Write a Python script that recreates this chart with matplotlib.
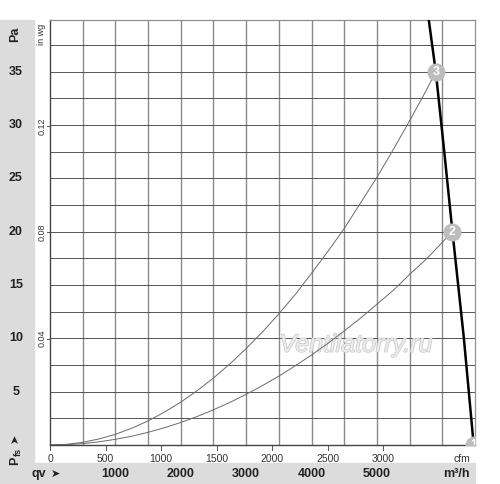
import matplotlib
matplotlib.use("Agg")
import matplotlib.pyplot as plt
from matplotlib.patches import Rectangle
from matplotlib.transforms import blended_transform_factory
import matplotlib.patheffects as pe

plt.rcParams['font.family'] = ['Liberation Sans', 'DejaVu Sans']

# system curves (qv in m3/h, pressure in Pa)
qv_curve3 = [0, 250, 500, 750, 1000, 1250, 1500, 1750, 2000, 2250, 2500, 2750, 3000,
             3250, 3500, 3750, 4000, 4250, 4500, 4750, 5000, 5250, 5500, 5750, 5900]
pa_curve3 = [0, 0.06, 0.25, 0.57, 1.0, 1.57, 2.26, 3.08, 4.02, 5.09, 6.28, 7.60, 9.04,
             10.6, 12.3, 14.1, 16.1, 18.15, 20.3, 22.7, 25.1, 27.7, 30.4, 33.2, 35.0]
qv_curve2 = [0, 250, 500, 750, 1000, 1250, 1500, 1750, 2000, 2250, 2500, 2750, 3000,
             3250, 3500, 3750, 4000, 4250, 4500, 4750, 5000, 5250, 5500, 5750, 6000, 6150]
pa_curve2 = [0, 0.03, 0.13, 0.30, 0.53, 0.82, 1.19, 1.62, 2.11, 2.67, 3.30, 3.99, 4.75,
             5.57, 6.46, 7.42, 8.44, 9.53, 10.7, 11.9, 13.2, 14.5, 16.0, 17.4, 19.0, 20.0]

# fan curve
qv_fan = [5790, 5900, 6030, 6155, 6330, 6480]
pa_fan = [40.0, 35.0, 27.5, 20.0, 10.0, 0.0]

# operating points
pt_labels = ['1', '2', '3']
pt_qv = [6480, 6155, 5900]
pt_pa = [0.0, 20.0, 35.0]

pa_ticks = [5, 10, 15, 20, 25, 30, 35]
inwg_ticks = [0.04, 0.08, 0.12]
m3h_ticks = [1000, 2000, 3000, 4000, 5000]
cfm_ticks = [0, 500, 1000, 1500, 2000, 2500, 3000]

CFM = 1.699  # m3/h per cfm
PA_PER_INWG = 249.09

fig = plt.figure(figsize=(5, 4.84), dpi=100)
ax = fig.add_axes([50 / 500, 39 / 484, 425 / 500, 425 / 484])

# gray bands
fig.patches.append(Rectangle((0, 0), 34 / 500, 464 / 484, transform=fig.transFigure,
                             color='#dcdcdc', zorder=0))
fig.patches.append(Rectangle((0, 0), 475 / 500, 21 / 484, transform=fig.transFigure,
                             color='#dcdcdc', zorder=0))

ax.set_xlim(0, 6500)
ax.set_ylim(0, 39.85)
for v in range(500, 6500, 500):
    ax.axvline(v, color='#8a8a8a', lw=1.0, zorder=1)
for i in range(1, 16):
    ax.axhline(i * 2.5, color='#555555', lw=0.7, zorder=1)

for s in ['top', 'right']:
    ax.spines[s].set_color('#909090')
    ax.spines[s].set_linewidth(0.9)
for s in ['left', 'bottom']:
    ax.spines[s].set_color('#444444')
    ax.spines[s].set_linewidth(1.0)
ax.set_xticks([])
ax.set_yticks([])

# watermark
ax.text(4680, 9.4, 'Ventilatorry.ru', fontsize=18, style='italic', color='#ebebeb',
        ha='center', va='center', zorder=1.5,
        path_effects=[pe.withStroke(linewidth=1.0, foreground='#c8c8c8')])

ax.plot(qv_curve3, pa_curve3, color='#6a6a6a', lw=0.7, zorder=2)
ax.plot(qv_curve2, pa_curve2, color='#6a6a6a', lw=0.7, zorder=2)
ax.plot(qv_fan, pa_fan, color='black', lw=1.8, zorder=3)

for lab, q, p in zip(pt_labels, pt_qv, pt_pa):
    ax.plot(q, p, 'o', ms=13, color='#bdbdbd', mec='none', zorder=4, clip_on=True)
    ax.text(q, p, lab, color='white', fontsize=9, fontweight='bold',
            ha='center', va='center', zorder=5, clip_on=True)

# left Pa labels
tl = blended_transform_factory(fig.transFigure, ax.transData)
for p in pa_ticks:
    fig.text(16 / 500, p, str(p), transform=tl, fontsize=9, fontweight='bold',
             ha='center', va='center', color='#222222')
fig.text(15 / 500, 1 - 34 / 484, 'Pa', rotation=90, fontsize=9, fontweight='bold',
         ha='center', va='center', color='#222222')
fig.text(15 / 500, 1 - 461 / 484, 'P', rotation=90, fontsize=9, fontweight='bold',
         ha='center', va='center', color='#222222')
fig.text(18 / 500, 1 - 452 / 484, 'fs', rotation=90, fontsize=6.5, fontweight='bold',
         ha='center', va='center', color='#222222')
fig.text(15 / 500, 1 - 438 / 484, '\u27a4', rotation=90, fontsize=8,
         ha='center', va='center', color='#222222')

# in wg labels
for w in inwg_ticks:
    p = w * PA_PER_INWG
    ax.plot([-40, 0], [p, p], color='#555555', lw=0.7, clip_on=False)
    fig.text(42 / 500, p, '%.2f' % w, transform=tl, rotation=90, fontsize=6.5,
             ha='center', va='center', color='#333333')
fig.text(42 / 500, 1 - 34 / 484, 'in wg', rotation=90, fontsize=6.5,
         ha='center', va='center', color='#333333')

# bottom m3/h labels
tb = blended_transform_factory(ax.transData, fig.transFigure)
for q in m3h_ticks:
    fig.text(q, 10 / 484, str(q), transform=tb, fontsize=9, fontweight='bold',
             ha='center', va='center', color='#222222')
fig.text(32 / 500, 10 / 484, 'qv', fontsize=9, fontweight='bold',
         ha='left', va='center', color='#222222')
fig.text(55 / 500, 10 / 484, '\u27a4', fontsize=8, ha='center', va='center',
         color='#222222')
fig.text(470 / 500, 10 / 484, 'm\u00b3/h', fontsize=9, fontweight='bold',
         ha='right', va='center', color='#222222')

# cfm labels
for c in cfm_ticks:
    q = c * CFM
    ax.plot([q, q], [0, -0.5], color='#555555', lw=0.7, clip_on=False)
    ax.text(q, -0.8, str(c), fontsize=7.5, ha='center', va='top', color='#333333')
ax.text(6300, -0.8, 'cfm', fontsize=7.5, ha='center', va='top', color='#333333')

fig.savefig('out.png', dpi=100)
